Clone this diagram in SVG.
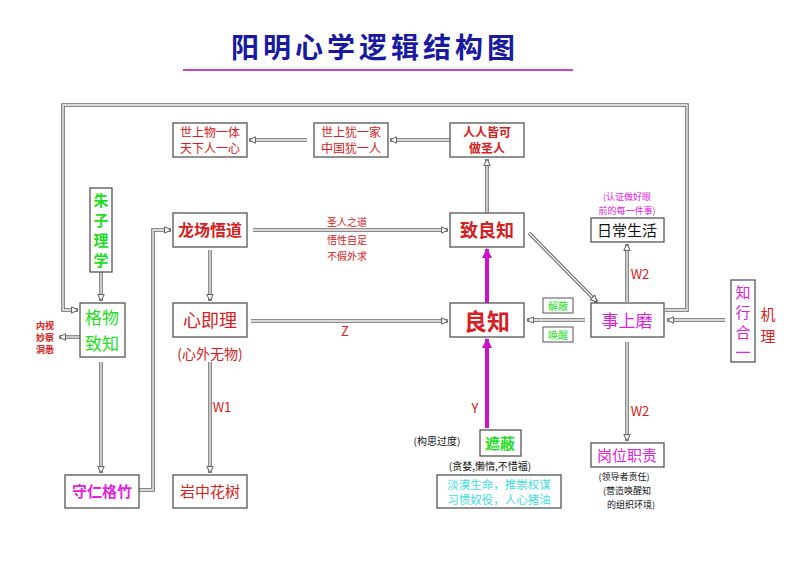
<svg xmlns="http://www.w3.org/2000/svg" width="800" height="565" viewBox="0 0 800 565">
<style>
text{font-family:"Noto Sans CJK SC",sans-serif;text-anchor:middle}
.b{fill:#fff;stroke:#555;stroke-width:1.3}
.o{fill:none;stroke:#666;stroke-width:3.5}
.i{fill:none;stroke:#fff;stroke-width:1.3}
.r{fill:#d42020}.g{fill:#22dd22}.m{fill:#dd22dd}.k{fill:#111}.c{fill:#44dddd}
.s{font-size:10px}.t{font-size:9px}
</style>
<defs>
<marker id="a" viewBox="0 0 10 10" refX="9" refY="5" markerWidth="8" markerHeight="8" markerUnits="userSpaceOnUse" orient="auto"><path d="M1,1 L9,5 L1,9 Z" fill="#fff" stroke="#555" stroke-width="1.2"/></marker>
<marker id="p" viewBox="0 0 10 10" refX="9" refY="5" markerWidth="10" markerHeight="10" markerUnits="userSpaceOnUse" orient="auto"><path d="M0,0 L10,5 L0,10 Z" fill="#cc11cc"/></marker>
</defs>
<text x="375" y="58" font-size="28" font-weight="bold" fill="#1a1aa0" letter-spacing="4">阳明心学逻辑结构图</text>
<line x1="183" y1="70" x2="573" y2="70" stroke="#cc44cc" stroke-width="2"/>
<g id="connectors">
<g class="o">
<path d="M665,310 H687 V105 H63 V310 H78"/>
<path d="M307,140 H249"/><path d="M450,140 H390"/><path d="M487,213 V159"/>
<path d="M253,230 H448"/><path d="M210,250 V301"/><path d="M251,321 H448"/>
<path d="M210,362 V473"/><path d="M101,272 V301"/><path d="M101,362 V473"/>
<path d="M139,490 H153 V230 H171"/><path d="M80,337 H59"/>
<path d="M529,233 L597,302"/><path d="M585,320 H527"/><path d="M627,302 V244"/>
<path d="M627,342 V441"/><path d="M725,320 H667"/>
</g>
<g class="i">
<path d="M665,310 H687 V105 H63 V310 H78" marker-end="url(#a)"/>
<path d="M307,140 H249" marker-end="url(#a)"/><path d="M450,140 H390" marker-end="url(#a)"/><path d="M487,213 V159" marker-end="url(#a)"/>
<path d="M253,230 H448" marker-end="url(#a)"/><path d="M210,250 V301" marker-end="url(#a)"/><path d="M251,321 H448" marker-end="url(#a)"/>
<path d="M210,362 V473" marker-end="url(#a)"/><path d="M101,272 V301" marker-end="url(#a)"/><path d="M101,362 V473" marker-end="url(#a)"/>
<path d="M139,490 H153 V230 H171" marker-end="url(#a)"/><path d="M80,337 H59" marker-end="url(#a)"/>
<path d="M529,233 L597,302" marker-end="url(#a)"/><path d="M585,320 H527" marker-end="url(#a)"/><path d="M627,302 V244" marker-end="url(#a)"/>
<path d="M627,342 V441" marker-end="url(#a)"/><path d="M725,320 H667" marker-end="url(#a)"/>
</g>
<path d="M487,428 V339" stroke="#cc11cc" stroke-width="4" marker-end="url(#p)"/>
<path d="M487,303 V249" stroke="#cc11cc" stroke-width="4" marker-end="url(#p)"/>
<text class="r s" x="347" y="226">圣人之道</text><text class="r s" x="347" y="244">悟性自足</text><text class="r s" x="347" y="260">不假外求</text>
<text class="r" x="345" y="336" font-size="13">Z</text><text class="r" x="222" y="412" font-size="13">W1</text>
<text class="r" x="475" y="413" font-size="13">Y</text>
<text class="r" x="640" y="279" font-size="13">W2</text><text class="r" x="640" y="416" font-size="13">W2</text>
</g>
<g id="n1"><rect class="b" x="173" y="123" width="74" height="34"/><text class="r" x="210" y="137" font-size="12">世上物一体</text><text class="r" x="210" y="153" font-size="12">天下人一心</text></g>
<g id="n2"><rect class="b" x="314" y="123" width="74" height="34"/><text class="r" x="351" y="137" font-size="12">世上犹一家</text><text class="r" x="351" y="153" font-size="12">中国犹一人</text></g>
<g id="n3"><rect class="b" x="450" y="123" width="74" height="34"/><text class="r" x="487" y="137" font-size="12" font-weight="bold">人人皆可</text><text class="r" x="487" y="153" font-size="12" font-weight="bold">做圣人</text></g>
<g id="n4"><rect class="b" x="90" y="188" width="22" height="84"/><text class="g" x="101" y="206" font-size="15" font-weight="bold">朱</text><text class="g" x="101" y="226" font-size="15" font-weight="bold">子</text><text class="g" x="101" y="246" font-size="15" font-weight="bold">理</text><text class="g" x="101" y="266" font-size="15" font-weight="bold">学</text></g>
<g id="n5"><rect class="b" x="173" y="213" width="74" height="34"/><text class="r" x="210" y="236" font-size="16" font-weight="bold">龙场悟道</text></g>
<g id="n6"><rect class="b" x="450" y="213" width="74" height="34"/><text class="r" x="487" y="237" font-size="18" font-weight="bold">致良知</text></g>
<g id="n7"><rect class="b" x="591" y="218" width="73" height="24"/><text class="k" x="627" y="236" font-size="15">日常生活</text>
<text class="m t" x="627" y="200">(认证做好眼</text><text class="m t" x="627" y="214">前的每一件事)</text></g>
<g id="n8"><rect class="b" x="80" y="303" width="45" height="54"/><text class="g" x="102" y="324" font-size="17">格物</text><text class="g" x="102" y="350" font-size="17">致知</text>
<text class="r" x="45" y="329" font-size="9" font-weight="bold">内视</text><text class="r" x="45" y="341" font-size="9" font-weight="bold">妙察</text><text class="r" x="45" y="353" font-size="9" font-weight="bold">洞悉</text></g>
<g id="n9"><rect class="b" x="173" y="303" width="74" height="34"/><text class="r" x="210" y="327" font-size="18">心即理</text><text class="r" x="210" y="359" font-size="14">(心外无物)</text></g>
<g id="n10"><rect class="b" x="450" y="303" width="74" height="34"/><text class="r" x="487" y="330" font-size="23" font-weight="bold">良知</text></g>
<g id="n11"><rect class="b" x="591" y="303" width="73" height="34"/><text class="m" x="627" y="327" font-size="17">事上磨</text></g>
<g id="n12"><rect class="b" x="731" y="280" width="24" height="82"/><text class="m" x="743" y="298" font-size="15">知</text><text class="m" x="743" y="318" font-size="15">行</text><text class="m" x="743" y="338" font-size="15">合</text><text class="m" x="743" y="358" font-size="15">一</text>
<text class="r" x="768" y="320" font-size="15">机</text><text class="r" x="768" y="342" font-size="15">理</text></g>
<g id="n13"><rect x="543" y="298" width="30" height="15" fill="#fff" stroke="#555"/><text class="g" x="558" y="310" font-size="10">解蔽</text></g>
<g id="n14"><rect x="543" y="327" width="30" height="15" fill="#fff" stroke="#555"/><text class="g" x="558" y="339" font-size="10">唤醒</text></g>
<g id="n15"><rect class="b" x="480" y="430" width="41" height="26"/><text class="g" x="500" y="449" font-size="15" font-weight="bold">遮蔽</text>
<text class="k s" x="437" y="445">(构思过度)</text><text class="k s" x="490" y="470">(贪婪,懒惰,不惜福)</text></g>
<g id="n16"><rect class="b" x="437" y="475" width="124" height="33"/><text class="c" x="499" y="489" font-size="11.5">淡漠生命，推崇权谋</text><text class="c" x="499" y="504" font-size="11.5">习惯奴役，人心猪油</text></g>
<g id="n17"><rect class="b" x="65" y="475" width="74" height="33"/><text class="m" x="102" y="497" font-size="15" font-weight="bold">守仁格竹</text></g>
<g id="n18"><rect class="b" x="173" y="475" width="74" height="33"/><text class="r" x="210" y="497" font-size="15">岩中花树</text></g>
<g id="n19"><rect class="b" x="591" y="443" width="73" height="24"/><text class="m" x="627" y="461" font-size="15">岗位职责</text>
<text class="k t" x="624" y="480">(领导者责任)</text><text class="k t" x="627" y="494">(营造唤醒知</text><text class="k t" x="631" y="508">的组织环境)</text></g>
</svg>
